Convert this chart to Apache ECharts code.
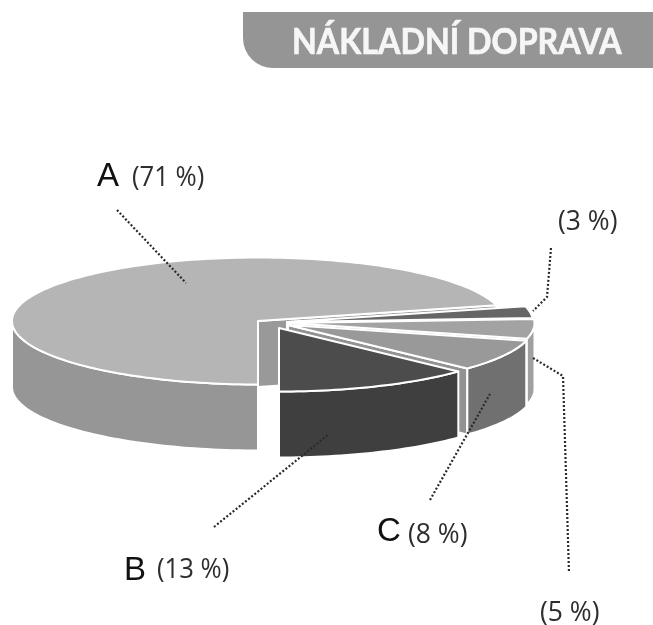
<!DOCTYPE html>
<html><head><meta charset="utf-8">
<style>html,body{margin:0;padding:0;background:#fff}#c{width:653px;height:625px}</style>
<script src="https://cdn.jsdelivr.net/npm/echarts@6/dist/echarts.min.js"></script>
</head><body><div id="c"></div>
<script>
// data
const titleText = 'NÁKLADNÍ DOPRAVA';
const categories = ['A', 'B', 'C', '', ''];
const shares = [71, 13, 8, 5, 3];

// styling / layout
const topColors  = ['#b5b5b5', '#4c4c4c', '#999999', '#a3a3a3', '#666666'];
const sideColors = ['#969696', '#3f3f3f', '#707070', '#a0a0a0', '#808080'];
const cutColors  = ['#999999', '#3f3f3f', '#929292', '#a0a0a0', '#808080'];
const centers = [[258,321],[279,328],[288,325],[288.5,323],[287,322]];
const layers = [1, 5, 4, 3, 2];
const RX = 246, RY = 63.5, DEPTH = 66, START = 14.4;
const PF = 'Open Sans', LF = 'Liberation Sans';
const labelItems = [
  {t:'A', x:97, y:177, f:LF, s:33, c:'#111', k:1},
  {t:'(71 %)', x:132, y:178, f:PF, s:27, c:'#2e2e2e', k:0.95},
  {t:'(3 %)', x:558, y:222, f:PF, s:27, c:'#2e2e2e', k:0.98},
  {t:'(5 %)', x:540, y:613, f:PF, s:27, c:'#2e2e2e', k:0.98},
  {t:'C', x:377, y:532, f:LF, s:33, c:'#111', k:1},
  {t:'(8 %)', x:408, y:535, f:PF, s:27, c:'#2e2e2e', k:0.98},
  {t:'B', x:124, y:571, f:LF, s:33, c:'#111', k:1},
  {t:'(13 %)', x:157, y:570, f:PF, s:27, c:'#2e2e2e', k:0.95}
];
const leaders = [
  [[117,210],[186,283]],
  [[551,248],[547,297],[533,311]],
  [[533,358],[563,376],[569,573]],
  [[214,527],[329,434]],
  [[430,500],[490,394]]
];

const total = shares.reduce((a,b)=>a+b,0);
const rad = d => d*Math.PI/180;
function pt(c,a,dy){ return [c[0]+RX*Math.cos(rad(a)), c[1]-RY*Math.sin(rad(a))+(dy||0)]; }
function arc(c,a0,a1,dy){ const n=Math.max(2,Math.ceil(Math.abs(a1-a0)/1.5)),o=[];
  for(let k=0;k<=n;k++) o.push(pt(c,a0+(a1-a0)*k/n,dy)); return o; }

function renderSlice(params){
  const i = params.dataIndex;
  let before = 0; for(let k=0;k<i;k++) before += shares[k];
  const a0 = START + before/total*360, a1 = a0 + shares[i]/total*360;
  const c = centers[i], kids = [], z = layers[i]*10;
  const st = col => ({fill:col, stroke:'#fff', lineWidth:2, lineJoin:'round'});
  const cut = a => { const p=pt(c,a);
    kids.push({type:'polygon', z2:z, shape:{points:[c,p,[p[0],p[1]+DEPTH],[c[0],c[1]+DEPTH]]}, style:st(cutColors[i])}); };
  if(Math.cos(rad(a0))>1e-6) cut(a0);
  if(Math.cos(rad(a1))<-1e-6) cut(a1);
  const s0=Math.max(a0,180), s1=Math.min(a1,360);
  if(s1>s0){
    const up=arc(c,s0,s1), lo=arc(c,s1,s0,DEPTH);
    kids.push({type:'polygon', z2:z+1, shape:{points:up.concat(lo)}, style:st(sideColors[i])});
  }
  kids.push({type:'polygon', z2:z+2, shape:{points:[c].concat(arc(c,a0,a1))}, style:st(topColors[i])});
  return {type:'group', children:kids};
}

const graphics = [
  {type:'rect', z:1, shape:{x:243,y:12,width:420,height:56,r:[0,0,0,30]}, style:{fill:'#959595'}},
  {type:'text', z:2, x:292, y:42, scaleX:0.895, style:{text:titleText, fill:'#f6f6f6', stroke:'#f6f6f6', lineWidth:0.7, font:'bold 36px Lato', textVerticalAlign:'middle'}}
];
leaders.forEach(p=>graphics.push({type:'polyline', z:20, shape:{points:p}, style:{stroke:'#2a2a2a', lineWidth:2.2, lineDash:[2,2], fill:null}}));
labelItems.forEach(l=>graphics.push({type:'text', z:20, x:l.x, y:l.y, scaleX:l.k, style:{text:l.t, fill:l.c, font:l.s+'px "'+l.f+'"', textVerticalAlign:'middle'}}));

const chart = echarts.init(document.getElementById('c'), null, {renderer:'canvas'});
chart.setOption({
  animation:false,
  backgroundColor:'#fff',
  graphic:graphics,
  series:[{type:'custom', coordinateSystem:'none', silent:true, z:5,
    data:shares.map((v,i)=>({name:categories[i], value:[i,v]})),
    renderItem:renderSlice}]
});
</script></body></html>
